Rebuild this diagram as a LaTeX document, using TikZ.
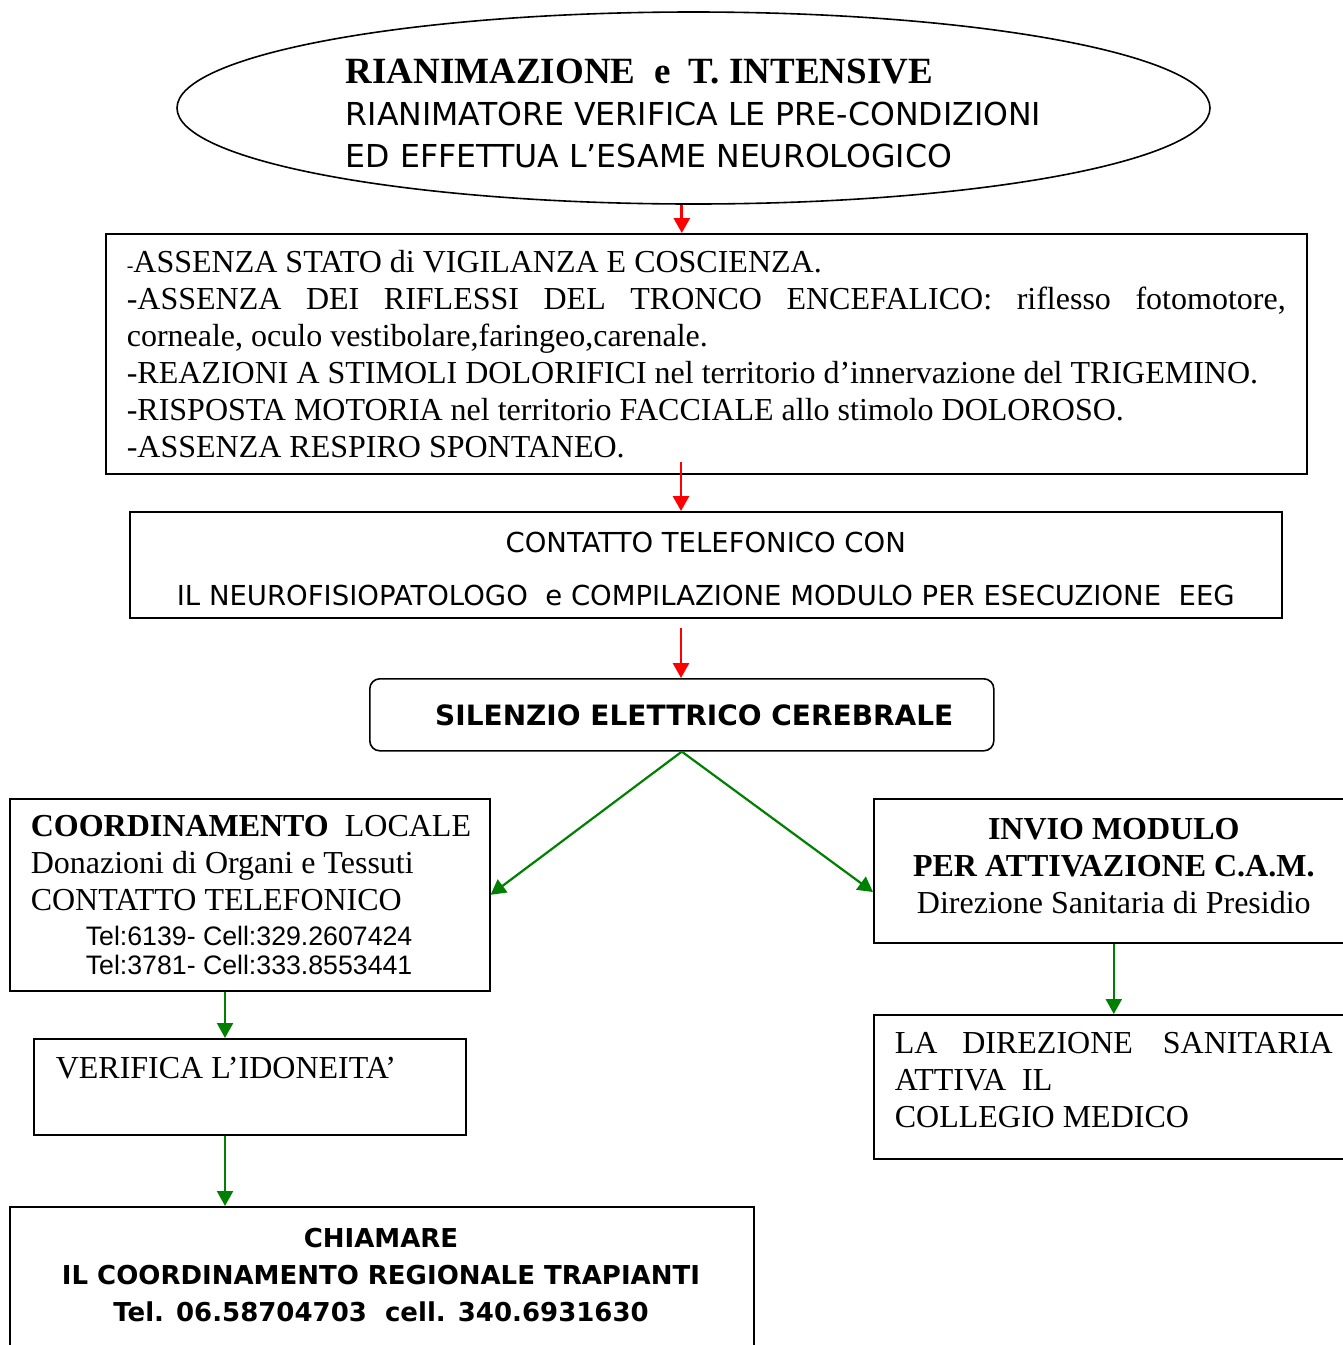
\documentclass[tikz,border=0pt]{standalone}
\usepackage{fontspec}
\setmainfont{Liberation Serif}
\newfontfamily\comicf{DejaVu Sans}
\newfontfamily\arialf{Liberation Sans}
\usetikzlibrary{shapes.geometric,arrows.meta,positioning}
\hyphenpenalty=10000
\exhyphenpenalty=10000

\begin{document}
\begin{tikzpicture}[x=1pt,y=-1pt,
	box/.style={draw,line width=1.6pt,inner sep=0pt,anchor=north west},
	redarr/.style={red,line width=2.8pt,-{Triangle[length=15pt,width=16pt]}},
	grnarr/.style={green!50!black,line width=2.2pt,-{Triangle[length=15pt,width=16pt]}},
	tnr/.style={font=\fontsize{32}{37}\selectfont},
	comic/.style={font=\comicf\fontsize{27.5}{33}\selectfont},
	comicbf/.style={font=\comicf\bfseries\fontsize{28}{37}\selectfont}]
\useasboundingbox (0,0) rectangle (1343,1345);

\node[draw,ellipse,line width=1.6pt,minimum width=1033pt,minimum height=192pt,inner sep=0pt,
	align=flush left,font=\comicf\fontsize{31.6}{42}\selectfont] (rianim) at (693.5,108)
	{\rule{0pt}{35pt}{\rmfamily\bfseries\fontsize{37}{42}\selectfont RIANIMAZIONE\ \ e\ \ T. INTENSIVE}\\
	RIANIMATORE VERIFICA LE PRE-CONDIZIONI\\
	ED EFFETTUA L’ESAME NEUROLOGICO};

\node[box,tnr,text width=1159pt,inner xsep=21pt,minimum height=240pt,align=justify] (crit) at (105,233)
	{{\fontsize{20}{37}\selectfont -}ASSENZA STATO di VIGILANZA E COSCIENZA.\\
	-ASSENZA DEI RIFLESSI DEL TRONCO ENCEFALICO: riflesso fotomotore,\linebreak corneale, oculo vestibolare,faringeo,carenale.\\
	-REAZIONI A STIMOLI DOLORIFICI nel territorio d’innervazione del TRIGEMINO.\\
	-RISPOSTA MOTORIA nel territorio FACCIALE allo stimolo DOLOROSO.\\
	-ASSENZA RESPIRO SPONTANEO.};

\node[box,comic,minimum width=1152pt,minimum height=106pt,align=center] (contatto) at (129,511)
	{\rule{0pt}{29pt}CONTATTO TELEFONICO CON\\[20pt]
	IL NEUROFISIOPATOLOGO\ \ e COMPILAZIONE MODULO PER ESECUZIONE\ \ EEG};

\node[box,comicbf,rounded corners=10pt,minimum width=624pt,minimum height=72pt] (silenzio) at (369,678)
	{\hspace*{25pt}SILENZIO ELETTRICO CEREBRALE};

\node[box,tnr,text width=438pt,inner xsep=21pt,minimum height=192pt,align=flush left] (locale) at (9,798)
	{\mbox{\textbf{COORDINAMENTO}\ \ LOCALE}\\
	Donazioni di Organi e Tessuti\\
	CONTATTO TELEFONICO\\[-2pt]
	{\arialf\fontsize{26.7}{31}\selectfont\hspace*{55pt}Tel:6139- Cell:329.2607424}\\[-8pt]
	{\arialf\fontsize{26.7}{31}\selectfont\hspace*{55pt}Tel:3781- Cell:333.8553441}};

\node[box,tnr,minimum width=480pt,minimum height=144pt,align=center] (cam) at (873,798)
	{\textbf{INVIO MODULO}\\
	\textbf{PER ATTIVAZIONE C.A.M.}\\
	Direzione Sanitaria di Presidio\rule[-9pt]{0pt}{1pt}};

\node[box,tnr,text width=438pt,inner xsep=21pt,minimum height=144pt,align=flush left] (direz) at (873,1014)
	{\makebox[438pt][s]{LA\ \ DIREZIONE\hspace{30pt}SANITARIA}\\
	ATTIVA\ \ IL\\
	COLLEGIO MEDICO\rule[-13pt]{0pt}{1pt}};

\node[box,tnr,text width=388pt,inner xsep=22pt,minimum height=96pt,align=flush left] (verifica) at (33,1038)
	{VERIFICA L’IDONEITA’\\ \mbox{}};

\node[box,minimum width=744pt,minimum height=200pt] (chiamare) at (9,1206) {};
\node[comicbf,font=\comicf\bfseries\fontsize{26}{37}\selectfont,align=center] (chiamaretxt) at (381,1275)
	{CHIAMARE\\
	IL COORDINAMENTO REGIONALE TRAPIANTI\\
	Tel. 06.58704703\ \ cell. 340.6931630};

% connectors
\coordinate (critout) at (681,462);
\coordinate (contout) at (681,628);
\coordinate (camin) at (873,892);
\coordinate (leftax) at (225,0);

\draw[redarr] (rianim.south -| silenzio.north) -- (crit.north -| silenzio.north);
\draw[redarr] (critout) -- (contatto.north -| critout);
\draw[redarr] (contout) -- (silenzio.north -| contout);
\draw[grnarr] (silenzio.south) -- (locale.east);
\draw[grnarr] (silenzio.south) -- (camin);
\draw[grnarr] (cam.south) -- (direz.north);
\draw[grnarr] (locale.south -| leftax) -- (verifica.north -| leftax);
\draw[grnarr] (verifica.south -| leftax) -- (chiamare.north -| leftax);
\end{tikzpicture}
\end{document}
